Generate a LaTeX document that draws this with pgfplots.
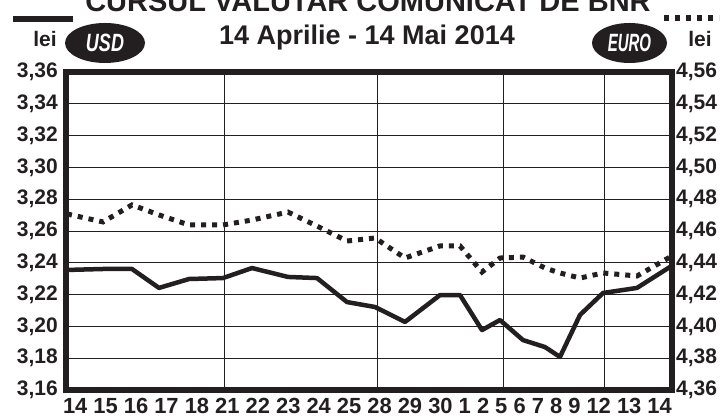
\documentclass[border=0pt]{standalone}
\usepackage{pgfplots}
\pgfplotsset{compat=1.18}
\usepackage{fontspec}
\setmainfont{Liberation Sans}
\definecolor{ink}{RGB}{35,31,32}
\begin{document}
\begin{tikzpicture}[x=1pt,y=1pt]
\useasboundingbox (0,0) rectangle (724,417);
\begin{axis}[
  at={(66pt,27pt)}, anchor=south west, scale only axis,
  width=606pt, height=318pt,
  xmin=66, xmax=672, ymin=3.16, ymax=3.36,
  axis line style={line width=6pt, ink},
  ytick={3.16,3.18,3.20,3.22,3.24,3.26,3.28,3.30,3.32,3.34,3.36},
  yticklabels={{3,16},{3,18},{3,20},{3,22},{3,24},{3,26},{3,28},{3,30},{3,32},{3,34},{3,36}},
  ymajorgrids, grid style={line width=0.9pt, ink},
  xtick={75.2,105.6,136.1,166.5,197.0,227.4,257.8,288.3,318.7,349.1,379.6,410.0,440.5,464.8,483.1,501.3,519.6,537.9,556.1,574.4,598.7,629.2,659.6},
  xticklabels={14,15,16,17,18,21,22,23,24,25,28,29,30,1,2,5,6,7,8,9,12,13,14},
  extra x ticks={224,377,503,604}, extra x tick labels={}, extra x tick style={grid=major},
  major tick length=0pt,
  tick label style={font=\fontsize{21}{21}\selectfont\bfseries, text=ink},
  yticklabel style={inner sep=0pt, anchor=east, xshift=-8pt},
  xticklabel style={inner sep=0pt, anchor=north, yshift=-8pt, font=\fontsize{21.9}{22}\selectfont\bfseries},
]
\addplot[ink, line width=4.5pt, line join=round] coordinates {
(67,3.2355) (103,3.2361) (132,3.2361) (159,3.2242) (189,3.2298) (223,3.2304)
(252,3.2367) (288,3.2311) (317,3.2304) (347,3.2153) (375,3.2122) (405,3.2028)
(440,3.2197) (460,3.2197) (482,3.1977) (500,3.2040) (523,3.1914) (545,3.1870)
(560,3.1808) (580,3.2072) (603,3.2210) (637,3.2242) (670,3.2374)};
\end{axis}
\begin{axis}[
  at={(66pt,27pt)}, anchor=south west, scale only axis,
  width=606pt, height=318pt,
  xmin=66, xmax=672, ymin=4.36, ymax=4.56,
  axis x line=none, axis y line*=right,
  axis line style={line width=6pt, ink},
  ytick={4.36,4.38,4.40,4.42,4.44,4.46,4.48,4.50,4.52,4.54,4.56},
  yticklabels={{4,36},{4,38},{4,40},{4,42},{4,44},{4,46},{4,48},{4,50},{4,52},{4,54},{4,56}},
  major tick length=0pt,
  tick label style={font=\fontsize{21}{21}\selectfont\bfseries, text=ink},
  yticklabel style={inner sep=0pt, anchor=west, xshift=4pt},
]
\addplot[ink, line width=5pt, dash pattern=on 5pt off 6pt] coordinates {
(67,4.4707) (103,4.4657) (132,4.4764) (159,4.4701) (189,4.4638) (223,4.4638)
(252,4.4669) (288,4.4719) (317,4.4631) (347,4.4537) (375,4.4556) (405,4.4430)
(440,4.4506) (460,4.4506) (482,4.4342) (500,4.4430) (523,4.4436) (545,4.4367)
(560,4.4336) (580,4.4304) (603,4.4336) (637,4.4317) (670,4.4436)};
\end{axis}
\draw[line width=6pt, ink] (13,397.5) -- (73,397.5);
\draw[line width=6pt, ink, dash pattern=on 5pt off 6pt] (664,398.5) -- (719,398.5);
\fill[ink] (105,374) ellipse [x radius=40, y radius=20];
\node[text=white, xscale=0.72] at (105,374) {\fontsize{25}{25}\selectfont\bfseries\itshape USD};
\fill[ink] (629.5,374) ellipse [x radius=37.5, y radius=20];
\node[text=white, xscale=0.6] at (629.5,374) {\fontsize{25}{25}\selectfont\bfseries\itshape EURO};
\node[anchor=base, text=ink, inner sep=0pt] at (45,370) {\fontsize{21}{21}\selectfont\bfseries lei};
\node[anchor=base, text=ink, inner sep=0pt] at (700,370) {\fontsize{21}{21}\selectfont\bfseries lei};
\node[anchor=base, text=ink, inner sep=0pt] at (367,372) {\fontsize{27}{27}\selectfont\bfseries 14 Aprilie - 14 Mai 2014};
\node[anchor=base, text=ink, inner sep=0pt, overlay] at (368,405) {\fontsize{29}{29}\selectfont\bfseries CURSUL VALUTAR COMUNICAT DE BNR};
\end{tikzpicture}
\end{document}
